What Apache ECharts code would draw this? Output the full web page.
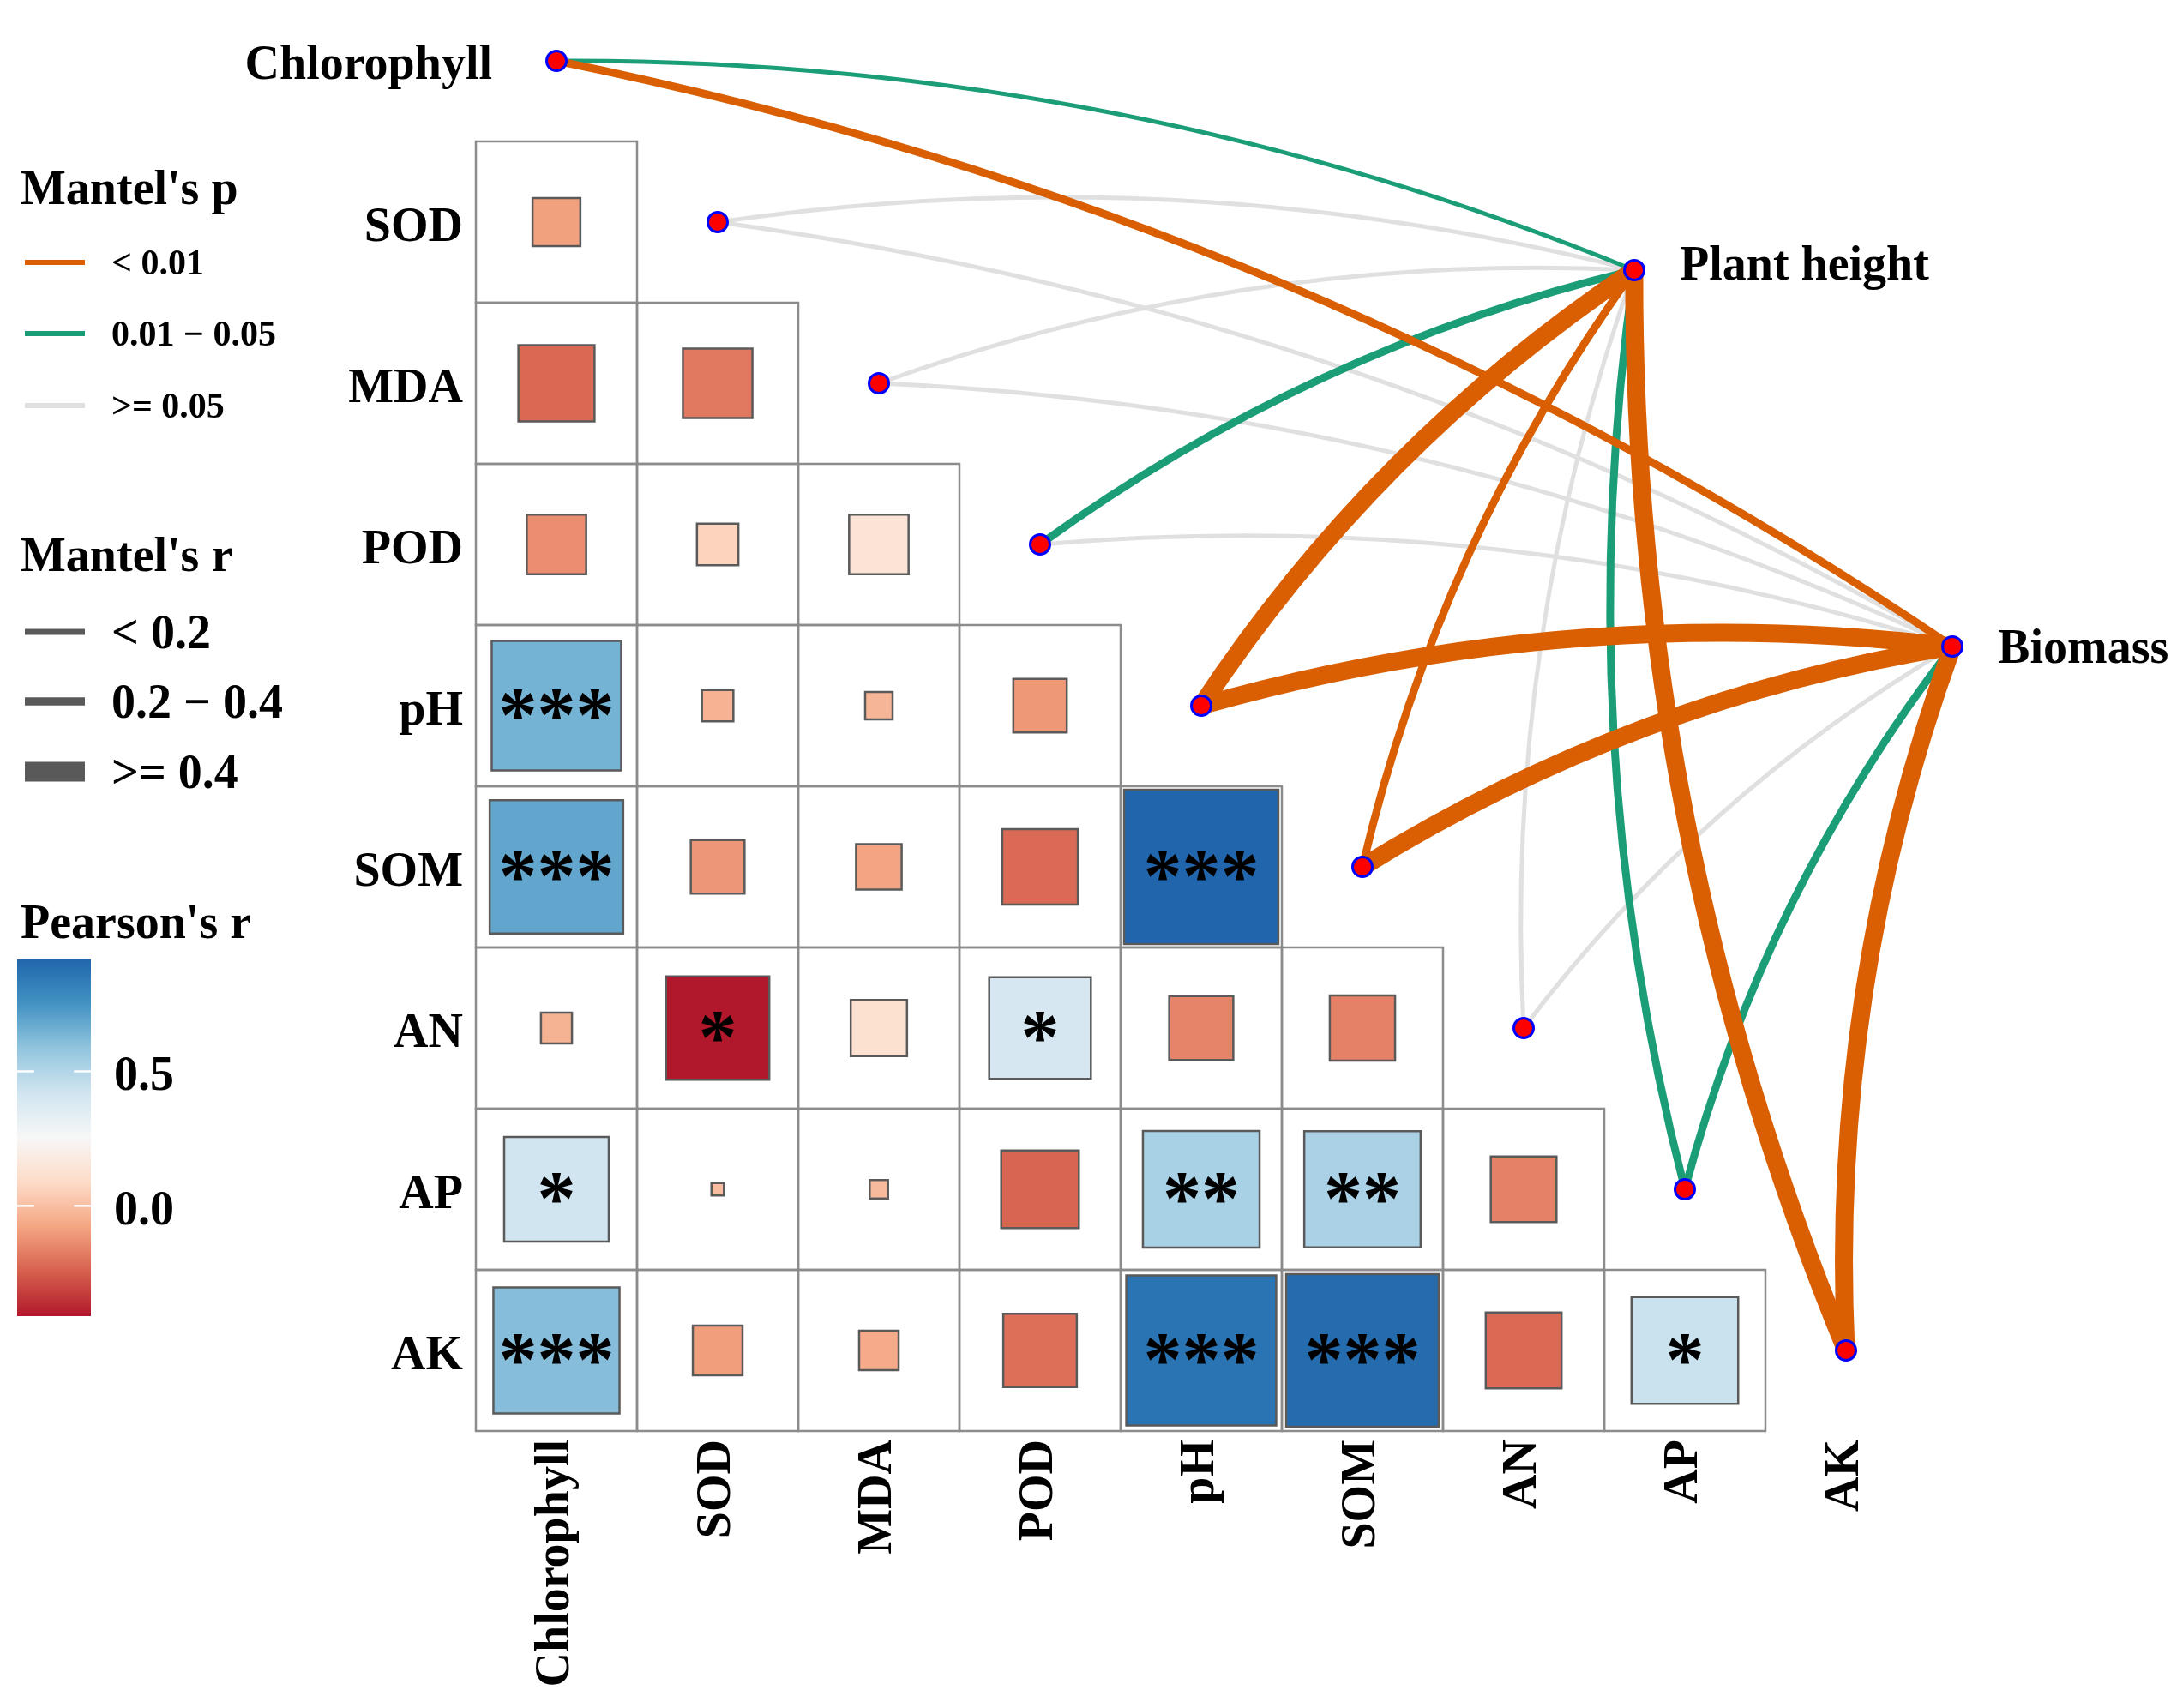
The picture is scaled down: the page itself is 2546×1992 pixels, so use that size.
<!DOCTYPE html>
<html>
<head>
<meta charset="utf-8">
<script src="https://cdn.jsdelivr.net/npm/echarts@6/dist/echarts.min.js"></script>
<style>
html,body{margin:0;padding:0;background:#ffffff;}
#chart{width:2546px;height:1992px;}
</style>
</head>
<body>
<div id="chart"></div>
<script>
// ---------------- data ----------------
const variables = ['Chlorophyll', 'SOD', 'MDA', 'POD', 'pH', 'SOM', 'AN', 'AP', 'AK'];

// Pearson's r, lower triangle: rows SOD..AK, columns Chlorophyll..(row-1)
const pearsonR = [
  [-0.088],
  [-0.223, -0.186],
  [-0.136, 0.066, 0.136],
  [0.645, -0.038, -0.029, -0.110],
  [0.686, -0.111, -0.080, -0.220, 0.916],
  [-0.037, -0.410, 0.122, 0.398, -0.158, -0.164],
  [0.421, -0.006, -0.013, -0.232, 0.524, 0.521, -0.166],
  [0.612, -0.095, -0.060, -0.208, 0.865, 0.895, -0.221, 0.438]
];
const pearsonSig = [
  [''],
  ['', ''],
  ['', '', ''],
  ['***', '', '', ''],
  ['***', '', '', '', '***'],
  ['', '*', '', '*', '', ''],
  ['*', '', '', '', '**', '**', ''],
  ['***', '', '', '', '***', '***', '', '*']
];

const mantelTargets = ['Plant height', 'Biomass'];
const pClasses = ['< 0.01', '0.01 \u2212 0.05', '>= 0.05'];
const rClasses = ['< 0.2', '0.2 \u2212 0.4', '>= 0.4'];
// Mantel test classes, one entry per variable (Chlorophyll..AK)
const mantelP_PlantHeight = ['0.01 \u2212 0.05', '>= 0.05', '>= 0.05', '0.01 \u2212 0.05', '< 0.01', '< 0.01', '>= 0.05', '0.01 \u2212 0.05', '< 0.01'];
const mantelR_PlantHeight = ['< 0.2', '< 0.2', '< 0.2', '0.2 \u2212 0.4', '>= 0.4', '0.2 \u2212 0.4', '< 0.2', '0.2 \u2212 0.4', '>= 0.4'];
const mantelP_Biomass = ['< 0.01', '>= 0.05', '>= 0.05', '>= 0.05', '< 0.01', '< 0.01', '>= 0.05', '0.01 \u2212 0.05', '< 0.01'];
const mantelR_Biomass = ['0.2 \u2212 0.4', '< 0.2', '< 0.2', '< 0.2', '>= 0.4', '>= 0.4', '< 0.2', '0.2 \u2212 0.4', '>= 0.4'];

const colorbarTicks = [0, 0.5];

// ---------------- styles / layout ----------------
const FONT = '"Liberation Serif", "Times New Roman", serif';
const palette = ['#B2182B', '#D6604D', '#F4A582', '#FDDBC7', '#F7F7F7', '#D1E5F0', '#92C5DE', '#4393C3', '#2166AC'];
const pColors = {};
pColors[pClasses[0]] = '#D95F02';
pColors[pClasses[1]] = '#1B9E77';
pColors[pClasses[2]] = '#E0E0E0';
const rWidths = {};
rWidths[rClasses[0]] = 5;
rWidths[rClasses[1]] = 9;
rWidths[rClasses[2]] = 21;
const rKeyWidths = [7, 9.5, 23];
// anchor positions of the two response nodes (in matrix cell units)
const targetAnchors = { 'Plant height': [6.686, 1.298], 'Biomass': [8.660, 3.633] };
const targetLabelOffset = { 'Plant height': [0, -3], 'Biomass': [0, 5] };

// ---------------- build ----------------
const cellData = [];
pearsonR.forEach(function (row, k) {
  row.forEach(function (r, j) {
    cellData.push([j, k + 1, r, pearsonSig[k][j]]);
  });
});
const allR = cellData.map(function (d) { return d[2]; });
const rMin = Math.min.apply(null, allR);
const rMax = Math.max.apply(null, allR);

const mantelP = { 'Plant height': mantelP_PlantHeight, 'Biomass': mantelP_Biomass };
const mantelR = { 'Plant height': mantelR_PlantHeight, 'Biomass': mantelR_Biomass };
let links = [];
mantelTargets.forEach(function (t) {
  variables.forEach(function (v, i) {
    links.push({
      order: pClasses.length - pClasses.indexOf(mantelP[t][i]),
      coords: [[i, i], targetAnchors[t]],
      lineStyle: { color: pColors[mantelP[t][i]], width: rWidths[mantelR[t][i]], curveness: 0.1, opacity: 1 }
    });
  });
});
links.sort(function (a, b) { return a.order - b.order; });
links = links.map(function (l) { return { coords: l.coords, lineStyle: l.lineStyle }; });

const nodeData = variables.map(function (v, i) {
  const item = { value: [i, i], name: v };
  if (i === 0) {
    item.label = { show: true, position: 'left', distance: 62, offset: [0, 7], formatter: v };
  }
  return item;
});
mantelTargets.forEach(function (t) {
  nodeData.push({ value: targetAnchors[t], name: t, label: { show: true, position: 'right', distance: 40, offset: targetLabelOffset[t], formatter: t } });
});

function isInt(v) { return Math.abs(v - Math.round(v)) < 1e-6; }

// legend graphics
const graphics = [];
function legendTitle(text, y) {
  graphics.push({ type: 'text', x: 24, y: y, style: { text: text, font: 'bold 56px ' + FONT, fill: '#000', verticalAlign: 'middle' } });
}
legendTitle("Mantel's p", 224);
const pKeyY = [306, 389, 473];
pClasses.forEach(function (c, k) {
  graphics.push({ type: 'line', shape: { x1: 29, y1: pKeyY[k], x2: 99, y2: pKeyY[k] }, style: { stroke: pColors[c], lineWidth: 6 } });
  graphics.push({ type: 'text', x: 130, y: pKeyY[k] + 3, style: { text: c, font: 'bold 42px ' + FONT, fill: '#000', verticalAlign: 'middle' } });
});
legendTitle("Mantel's r", 652);
const rKeyY = [737, 818, 900];
rClasses.forEach(function (c, k) {
  graphics.push({ type: 'line', shape: { x1: 29, y1: rKeyY[k], x2: 99, y2: rKeyY[k] }, style: { stroke: '#595959', lineWidth: rKeyWidths[k] } });
  graphics.push({ type: 'text', x: 130, y: rKeyY[k] + 5, style: { text: c, font: 'bold 56px ' + FONT, fill: '#000', verticalAlign: 'middle' } });
});
legendTitle("Pearson's r", 1080);

const chart = echarts.init(document.getElementById('chart'), null, { renderer: 'canvas' });
const labelText = { fontFamily: FONT, fontWeight: 'bold', fontSize: 56, color: '#000' };

chart.setOption({
  animation: false,
  backgroundColor: '#ffffff',
  graphic: graphics,
  grid: [
    { left: 555, top: 165, width: 1692, height: 1504 },
    { left: 20, top: 1119, width: 86, height: 416 }
  ],
  xAxis: [
    {
      type: 'value', gridIndex: 0, min: -0.5, max: 8.5, interval: 0.5, position: 'bottom',
      axisLine: { show: false }, axisTick: { show: false }, splitLine: { show: false },
      axisLabel: Object.assign({ rotate: 90, margin: 10, formatter: function (v) { return isInt(v) && v >= 0 ? variables[Math.round(v)] : ''; } }, labelText)
    },
    { type: 'value', gridIndex: 1, min: 0, max: 1, show: false }
  ],
  yAxis: [
    {
      type: 'value', gridIndex: 0, min: 0.5, max: 8.5, interval: 0.5, inverse: true,
      axisLine: { show: false }, axisTick: { show: false }, splitLine: { show: false },
      axisLabel: Object.assign({ margin: 15, verticalAlign: 'top', lineHeight: 16, formatter: function (v) { return isInt(v) && v >= 1 ? variables[Math.round(v)] : ''; } }, labelText)
    },
    { type: 'value', gridIndex: 1, min: rMin, max: rMax, show: false }
  ],
  visualMap: [{
    type: 'continuous', show: false, min: rMin, max: rMax, dimension: 2, seriesIndex: 0,
    inRange: { color: palette }
  }],
  series: [
    {
      type: 'custom', xAxisIndex: 0, yAxisIndex: 0, clip: false, z: 2, silent: true,
      data: cellData,
      renderItem: function (params, api) {
        const c = api.coord([api.value(0), api.value(1)]);
        const s = api.size([1, 1]);
        const w = s[0], h = s[1];
        const f = Math.sqrt(Math.abs(api.value(2)));
        const sw = w * f, sh = h * f;
        const sig = cellData[params.dataIndex][3];
        return {
          type: 'group',
          children: [
            { type: 'rect', shape: { x: c[0] - w / 2, y: c[1] - h / 2, width: w, height: h }, style: { fill: null, stroke: '#8c8c8c', lineWidth: 2.5 } },
            { type: 'rect', shape: { x: c[0] - sw / 2, y: c[1] - sh / 2, width: sw, height: sh }, style: { fill: api.visual('color'), stroke: '#5a5a5a', lineWidth: 2.5 } },
            { type: 'text', style: { text: sig, x: c[0], y: c[1] + 18, align: 'center', verticalAlign: 'middle', font: 'bold 90px ' + FONT, fill: '#000' } }
          ]
        };
      }
    },
    {
      type: 'lines', coordinateSystem: 'cartesian2d', xAxisIndex: 0, yAxisIndex: 0, clip: false, z: 3, silent: true,
      data: links
    },
    {
      type: 'scatter', xAxisIndex: 0, yAxisIndex: 0, clip: false, z: 4, silent: true,
      symbol: 'circle', symbolSize: 23,
      itemStyle: { color: '#FF0000', borderColor: '#0000FF', borderWidth: 3, opacity: 1 },
      label: Object.assign({ show: false }, labelText),
      data: nodeData
    },
    {
      type: 'custom', xAxisIndex: 1, yAxisIndex: 1, clip: false, z: 2, silent: true,
      data: [[0, rMin]],
      renderItem: function (params, api) {
        const p0 = api.coord([0, rMin]);
        const p1 = api.coord([1, rMax]);
        const stops = palette.map(function (col, i) { return { offset: i / (palette.length - 1), color: col }; });
        return {
          type: 'rect',
          shape: { x: p0[0], y: p1[1], width: p1[0] - p0[0], height: p0[1] - p1[1] },
          style: { fill: new echarts.graphic.LinearGradient(0, 1, 0, 0, stops) }
        };
      }
    },
    {
      type: 'custom', xAxisIndex: 1, yAxisIndex: 1, clip: false, z: 3, silent: true,
      data: colorbarTicks.map(function (v) { return [0, v]; }),
      renderItem: function (params, api) {
        const v = api.value(1);
        const pl = api.coord([0, v]);
        const pr = api.coord([1, v]);
        const w = pr[0] - pl[0];
        return {
          type: 'group',
          children: [
            { type: 'line', shape: { x1: pl[0], y1: pl[1], x2: pl[0] + 0.23 * w, y2: pl[1] }, style: { stroke: '#ffffff', lineWidth: 2.5 } },
            { type: 'line', shape: { x1: pr[0] - 0.23 * w, y1: pr[1], x2: pr[0], y2: pr[1] }, style: { stroke: '#ffffff', lineWidth: 2.5 } },
            { type: 'text', style: { text: v.toFixed(1), x: pr[0] + 27, y: pr[1] + 7, align: 'left', verticalAlign: 'middle', font: 'bold 56px ' + FONT, fill: '#000' } }
          ]
        };
      }
    }
  ]
});
</script>
</body>
</html>
